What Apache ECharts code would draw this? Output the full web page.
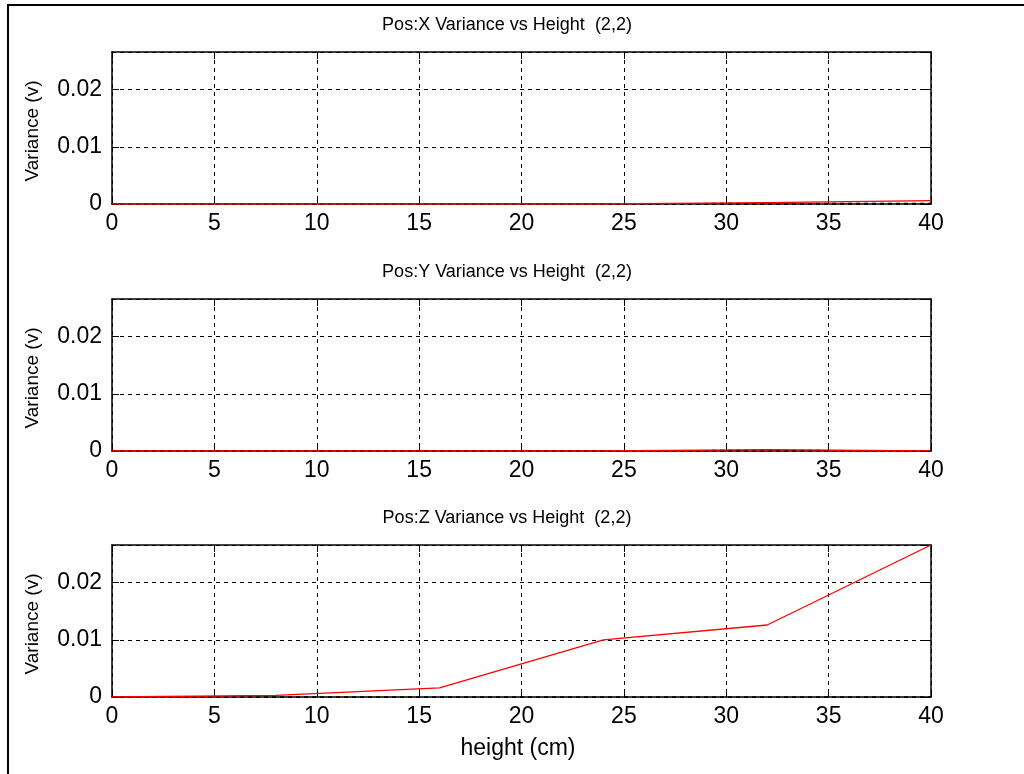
<!DOCTYPE html>
<html>
<head>
<meta charset="utf-8">
<script src="https://cdn.jsdelivr.net/npm/echarts@6/dist/echarts.min.js"></script>
<style>
  html, body { margin: 0; padding: 0; background: #ffffff; }
  #chart { width: 1024px; height: 774px; }
</style>
</head>
<body>
<div id="chart"></div>
<script>
// Sensor heights (cm) where the variance was sampled
const heights = [0, 8, 16, 24, 32, 40];

// Variance per axis (red traces)
const varianceX = [0, 0, 0, 0, 0.00025, 0.0006];
const varianceY = [0, 0, 0, 0, 0.00025, 0];
const varianceZ = [0, 0.0003, 0.0016, 0.0100, 0.0126, 0.0266];

// Reference variance per axis (black dashed traces)
const referenceX = [0, 0, 0, 0, 0.0001, 0.0001];
const referenceY = [0, 0, 0, 0, 0.0001, 0];
const referenceZ = [0, 0, 0, 0, 0, 0];

const panelTitles = [
  'Pos:X Variance vs Height  (2,2)',
  'Pos:Y Variance vs Height  (2,2)',
  'Pos:Z Variance vs Height  (2,2)'
];
const xAxisTitle = 'height (cm)';
const yAxisTitle = 'Variance (v)';

// Axis ranges and tick spacing
const xMin = 0, xMax = 40, xStep = 5;
const yMin = 0, yMax = 0.0266, yStep = 0.01;

const panels = [
  { variance: varianceX, reference: referenceX },
  { variance: varianceY, reference: referenceY },
  { variance: varianceZ, reference: referenceZ }
];

// Layout of the three stacked axes boxes
const plotLeft = 112, plotWidth = 819, plotHeight = 152;
const plotTops = [52, 299, 545];

const FONT = '"Liberation Sans", Arial, Helvetica, sans-serif';
const BLACK = '#000000';
const RED = '#ff0000';

function pairs(xs, ys) { return xs.map((x, i) => [x, ys[i]]); }

function yLabel(v) {
  const k = v / yStep;
  if (Math.abs(k - Math.round(k)) > 1e-6) return '';
  return String(+v.toFixed(2));
}

const grids = [], xAxes = [], yAxes = [], series = [], graphics = [];

panels.forEach((p, i) => {
  grids.push({ left: plotLeft, top: plotTops[i], width: plotWidth, height: plotHeight, show: false });

  const tick = { show: true, inside: true, length: 7, lineStyle: { color: BLACK, width: 1 } };
  const line = { show: true, onZero: false, lineStyle: { color: BLACK, width: 1.5 } };
  const grid = { show: true, lineStyle: { color: BLACK, width: 1, type: [4, 4] } };

  // bottom x axis with labels and vertical grid
  xAxes.push({
    gridIndex: i, type: 'value', position: 'bottom',
    min: xMin, max: xMax, interval: xStep,
    axisLine: line, axisTick: tick, splitLine: grid,
    axisLabel: { color: BLACK, fontSize: 23, fontFamily: FONT, margin: 8 }
  });
  // top x axis: closes the box, ticks only
  xAxes.push({
    gridIndex: i, type: 'value', position: 'top',
    min: xMin, max: xMax, interval: xStep,
    axisLine: line, axisTick: tick, splitLine: { show: false },
    axisLabel: { show: false }
  });
  // left y axis with labels and horizontal grid
  yAxes.push({
    gridIndex: i, type: 'value', position: 'left',
    min: yMin, max: yMax, interval: yStep,
    axisLine: line, axisTick: tick, splitLine: grid,
    axisLabel: { color: BLACK, fontSize: 23, fontFamily: FONT, margin: 10, formatter: yLabel, showMaxLabel: false }
  });
  // right y axis: closes the box, ticks only
  yAxes.push({
    gridIndex: i, type: 'value', position: 'right',
    min: yMin, max: yMax, interval: yStep,
    axisLine: line, axisTick: tick, splitLine: { show: false },
    axisLabel: { show: false }
  });

  series.push({
    type: 'line', xAxisIndex: 2 * i, yAxisIndex: 2 * i,
    data: pairs(heights, p.reference), symbol: 'none', silent: true,
    lineStyle: { color: BLACK, width: 1.5, type: [4, 4] }, z: 3
  });
  series.push({
    type: 'line', xAxisIndex: 2 * i, yAxisIndex: 2 * i,
    data: pairs(heights, p.variance), symbol: 'none', silent: true,
    lineStyle: { color: RED, width: 1.3 }, z: 4
  });

  // panel title
  graphics.push({
    type: 'text', x: 507, y: plotTops[i] - 27,
    style: { text: panelTitles[i], fill: BLACK, font: '18px ' + FONT, textAlign: 'center', textVerticalAlign: 'middle' }
  });
  // y axis title, rotated
  graphics.push({
    type: 'text', x: 33, y: plotTops[i] + plotHeight / 2 + 3, rotation: Math.PI / 2,
    style: { text: yAxisTitle, fill: BLACK, font: '19px ' + FONT, textAlign: 'center', textVerticalAlign: 'middle' }
  });
});

// x axis title under the last panel
graphics.push({
  type: 'text', x: 518, y: 748.5,
  style: { text: xAxisTitle, fill: BLACK, font: '23px ' + FONT, textAlign: 'center', textVerticalAlign: 'middle' }
});

// figure frame
graphics.push({
  type: 'rect', shape: { x: 8, y: 5, width: 2000, height: 2000 },
  style: { fill: 'none', stroke: BLACK, lineWidth: 2 }, z: 10
});

const chart = echarts.init(document.getElementById('chart'), null, { renderer: 'canvas' });
chart.setOption({
  backgroundColor: '#ffffff',
  animation: false,
  grid: grids,
  xAxis: xAxes,
  yAxis: yAxes,
  series: series,
  graphic: { elements: graphics }
});
</script>
</body>
</html>
